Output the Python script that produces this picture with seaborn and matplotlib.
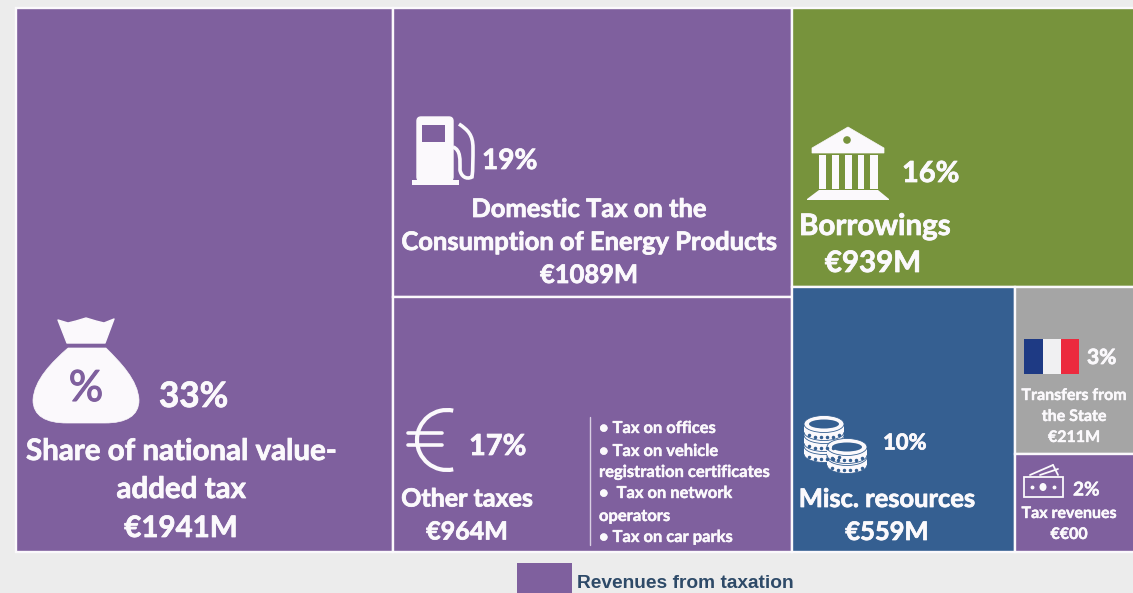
import matplotlib
matplotlib.use("Agg")
import matplotlib.pyplot as plt
import matplotlib.patheffects as pe
import seaborn as sns
from matplotlib.patches import Rectangle, PathPatch, Ellipse, Arc, Circle, Polygon, FancyBboxPatch
from matplotlib.path import Path

# ---- data ----
tile_names = ["Share of national value-added tax", "Domestic Tax on the Consumption of Energy Products",
              "Other taxes", "Borrowings", "Misc. resources", "Transfers from the State", "Tax revenues"]
tile_values = [1941, 1089, 964, 939, 559, 211, 124]
tile_groups = ["tax", "tax", "tax", "borrow", "misc", "state", "tax"]
group_colors = {"tax": "#7f609e", "borrow": "#77933c", "misc": "#355f91", "state": "#a5a5a5"}
bullet_lines = ["• Tax on offices", "• Tax on vehicle", "registration certificates",
                "•  Tax on network", "operators", "• Tax on car parks"]
legend_label = "Revenues from taxation"

BG = "#ececec"
WHITE = "#fbf9fc"
PURPLE = group_colors["tax"]
GREEN = group_colors["borrow"]
BLUE = group_colors["misc"]

sns.set_theme(style="white", rc={"figure.facecolor": BG, "axes.facecolor": BG})
plt.rcParams["font.family"] = ["Lato", "DejaVu Sans"]
palette = [group_colors[g] for g in tile_groups]

fig = plt.figure(figsize=(11.33, 5.93), dpi=100, facecolor=BG)

# treemap axes: x in value units, y as a 0-1 share of height
ax = fig.add_axes([0, 0, 1, 1])
k = 776 / sum(tile_values[:3])
ax.set_xlim(-16 / k, (1133 - 16) / k)
h = 544
ax.set_ylim(-(593 - 552) / h, 1 + 8 / h)
ax.axis("off")


def slice_tiles(v):
    c1, c2 = v[0], v[1] + v[2]
    c3 = sum(v[3:])
    r = [(0, 0, c1, 1),
         (c1, v[2] / c2, c2, v[1] / c2),
         (c1, 0, c2, v[2] / c2)]
    x3 = c1 + c2
    low = sum(v[4:])
    r.append((x3, low / c3, c3, v[3] / c3))
    lh = low / c3
    w4 = c3 * v[4] / low
    r.append((x3, 0, w4, lh))
    rest = v[5] + v[6]
    r.append((x3 + w4, lh * v[6] / rest, c3 - w4, lh * v[5] / rest))
    r.append((x3 + w4, 0, c3 - w4, lh * v[6] / rest))
    return r


for (x, y, w, ht), col in zip(slice_tiles(tile_values), palette):
    ax.add_patch(Rectangle((x, y), w, ht, facecolor=col, edgecolor=WHITE, linewidth=1.7))

# overlay in pixel coordinates for labels and icons
ov = fig.add_axes([0, 0, 1, 1])
ov.set_xlim(0, 1133)
ov.set_ylim(593, 0)
ov.axis("off")
ov.patch.set_alpha(0)


def label(x, y, s, px, ha="center", color=WHITE, family="Lato", weight="bold", stroke=0.55):
    t = ov.text(x, y + 2, s, fontsize=px * 0.72, ha=ha, va="center", color=color, family=family, weight=weight)
    if stroke:
        t.set_path_effects([pe.withStroke(linewidth=stroke, foreground=color)])


label(159, 395, "33%", 35, ha="left")
label(181, 449, "Share of national value-", 29.5)
label(181, 487, "added tax", 29.5)
label(181, 526, "€1941M", 29.5)

label(482, 159, "19%", 28, ha="left")
label(589, 207, "Domestic Tax on the", 25.5)
label(589, 240, "Consumption of Energy Products", 25.5)
label(589, 273, "€1089M", 25.5)

label(469, 445, "17%", 29, ha="left")
label(467, 497, "Other taxes", 25)
label(467, 530, "€964M", 25)
for yy, line in zip([426, 449, 470, 491, 514, 535], bullet_lines):
    label(599, yy, line, 16.5, ha="left", stroke=0.3)
ov.plot([590, 590], [417, 545], color="#d9cfe3", lw=1)

label(902, 172, "16%", 29, ha="left")
label(799, 224, "Borrowings", 29.5, ha="left")
label(873, 261, "€939M", 29.5)

label(883, 441, "10%", 22, ha="left")
label(887, 497, "Misc. resources", 25.5)
label(887, 530, "€559M", 25.5)

label(1087, 356, "3%", 21, ha="left")
label(1074, 394, "Transfers from", 16, stroke=0.3)
label(1074, 415, "the State", 16, stroke=0.3)
label(1074, 436, "€211M", 16, stroke=0.3)

label(1073, 488, "2%", 19, ha="left", stroke=0.3)
label(1069, 512, "Tax revenues", 16, stroke=0.3)
label(1069, 533, "€€00", 16, stroke=0.3)

# legend
ov.add_patch(Rectangle((517, 563), 55, 32, facecolor=PURPLE, edgecolor="none"))
label(577, 581, legend_label, 19.2, ha="left", color="#2e4a68", family="Liberation Sans", stroke=0)

# --- money bag ---
M, L, C = Path.MOVETO, Path.LINETO, Path.CURVE4
crown = [(58, 320), (68, 323), (76, 321), (86, 318), (96, 321), (104, 323), (114, 319), (105, 343), (67, 343), (58, 320)]
ov.add_patch(Polygon(crown, closed=True, fc=WHITE, ec=WHITE, lw=1, joinstyle="round"))
body = Path([(68, 348), (106, 348), (120, 362), (138, 380), (139, 400), (139, 416), (126, 423), (105, 423),
             (67, 423), (46, 423), (33, 416), (33, 400), (34, 380), (52, 362), (68, 348)],
            [M, L, C, C, C, C, C, C, L, C, C, C, C, C, C])
ov.add_patch(PathPatch(body, fc=WHITE, ec=WHITE, lw=0.5))
label(86, 387, "%", 43, color=PURPLE, weight="normal", stroke=0.8)

# --- fuel pump ---
ov.add_patch(FancyBboxPatch((417, 117), 36, 64, boxstyle="round,pad=0,rounding_size=4", fc=WHITE, ec=WHITE, lw=1))
ov.add_patch(Rectangle((412, 180), 47, 5, fc=WHITE, ec="none"))
ov.add_patch(Rectangle((422, 125), 23, 17, fc=PURPLE, ec="none"))
hose = Path([(459, 124), (468, 130), (473, 135), (473, 148),
             (473, 158), (473, 170), (472, 177),
             (466, 180), (461, 176), (460, 170),
             (460, 160), (461, 150), (453, 147)],
            [M, C, C, C, C, C, C, C, C, C, C, C, C])
ov.add_patch(PathPatch(hose, fc="none", ec=WHITE, lw=2.6))

# --- euro ---
ov.add_patch(Arc((447, 440), 60, 60, theta1=78, theta2=282, ec=WHITE, lw=3))
ov.plot([408, 442], [433, 433], color=WHITE, lw=2.6, solid_capstyle="round")
ov.plot([408, 442], [445, 445], color=WHITE, lw=2.6, solid_capstyle="round")

# --- bank ---
ov.add_patch(Polygon([(848, 127), (884, 148), (884, 153), (812, 153), (812, 148)], closed=True, fc=WHITE, ec=WHITE, lw=0.5))
ov.add_patch(Circle((847, 140), 3.8, fc=GREEN, ec="none"))
ov.add_patch(Rectangle((819, 155), 59, 34, fc=WHITE, ec="none"))
for gx in [826, 839, 852, 864]:
    ov.add_patch(Rectangle((gx, 155), 6, 34, fc=GREEN, ec="none"))
ov.add_patch(Polygon([(819, 190), (878, 190), (889, 199), (889, 200), (807, 200), (807, 199)], closed=True, fc=WHITE, ec="none"))

# --- coins ---
def coin(cx, cy, top=False):
    ov.add_patch(Ellipse((cx, cy + 8), 40, 17, fc=WHITE, ec=BLUE, lw=0.6))
    ov.add_patch(Rectangle((cx - 20, cy), 40, 8, fc=WHITE, ec="none"))
    ov.add_patch(Ellipse((cx, cy), 40, 17, fc=WHITE, ec=BLUE, lw=0.6))
    ov.plot([cx - 15 + i * 6 for i in range(6)], [cy + 11 if i in (0, 5) else cy + 13 for i in range(6)],
            ls="none", marker="o", ms=1.5, color=BLUE)
    if top:
        ov.add_patch(Ellipse((cx, cy), 30, 9, fc=BLUE, ec="none"))


for cy in [446, 435]:
    coin(824, cy)
coin(824, 424, top=True)
coin(847, 457)
coin(847, 447, top=True)

# --- flag ---
ov.add_patch(Rectangle((1024, 339), 18.5, 35, fc="#1e3a84", ec="none"))
ov.add_patch(Rectangle((1042.5, 339), 18, 35, fc="#f0f0f2", ec="none"))
ov.add_patch(Rectangle((1060.5, 339), 18.5, 35, fc="#ec2a3e", ec="none"))

# --- banknotes ---
ov.add_patch(Rectangle((1024, 477), 39, 20, fc="none", ec=WHITE, lw=1.3))
ov.add_patch(Ellipse((1043, 487), 7, 8, fc=WHITE, ec="none"))
ov.plot([1032, 1054], [487, 487], ls="none", marker="o", ms=1.8, color=WHITE)
ov.plot([1030, 1053], [475, 465], color=WHITE, lw=1.3)
ov.plot([1040, 1058], [475, 469], color=WHITE, lw=1.3)
ov.plot([1053, 1058], [465, 475], color=WHITE, lw=1.3)

fig.savefig("out.png", dpi=100, facecolor=BG)
